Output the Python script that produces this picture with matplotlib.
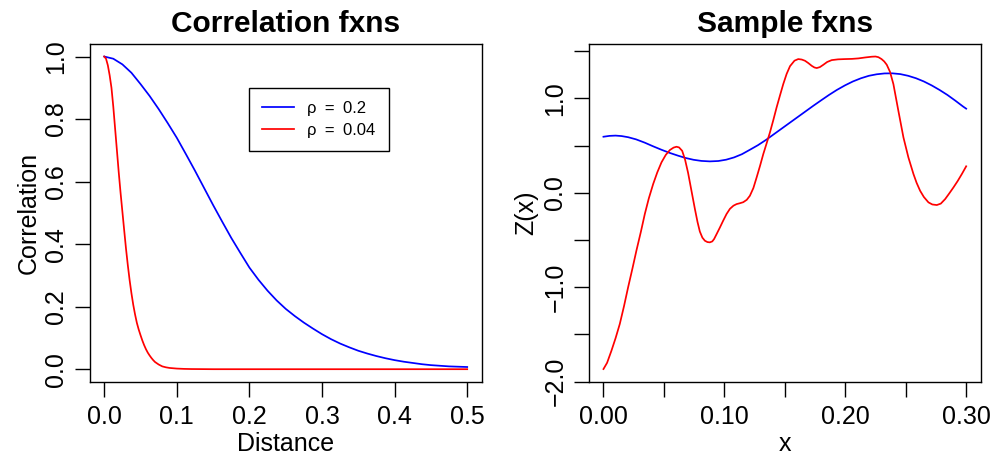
import matplotlib
matplotlib.use("Agg")
import matplotlib.pyplot as plt
from matplotlib.lines import Line2D

plt.rcParams['font.family'] = ['Liberation Sans', 'DejaVu Sans']
plt.rcParams['font.size'] = 18

# ---------------- data ----------------
dist_blue = [0.0, 0.0125, 0.025, 0.0375, 0.05, 0.0625, 0.075, 0.0875, 0.1, 0.1125,
             0.125, 0.1375, 0.15, 0.1625, 0.175, 0.1875, 0.2, 0.2125, 0.225, 0.2375,
             0.25, 0.2625, 0.275, 0.2875, 0.3, 0.3125, 0.325, 0.3375, 0.35, 0.3625,
             0.375, 0.3875, 0.4, 0.4125, 0.425, 0.4375, 0.45, 0.4625, 0.475, 0.4875, 0.5]
corr_blue = [1.0, 0.993, 0.975, 0.948, 0.912, 0.874, 0.832, 0.787, 0.740, 0.688,
             0.635, 0.580, 0.525, 0.472, 0.420, 0.372, 0.325, 0.286, 0.251, 0.220,
             0.193, 0.170, 0.149, 0.130, 0.112, 0.096, 0.082, 0.070, 0.059, 0.050,
             0.042, 0.035, 0.029, 0.024, 0.020, 0.016, 0.013, 0.011, 0.009, 0.008, 0.007]

dist_red = [0.0, 0.0025, 0.005, 0.0075, 0.01, 0.0125, 0.015, 0.0175, 0.02, 0.0225,
            0.025, 0.0275, 0.03, 0.0325, 0.035, 0.0375, 0.04, 0.0425, 0.045, 0.0475,
            0.05, 0.0525, 0.055, 0.0575, 0.06, 0.0625, 0.065, 0.0675, 0.07, 0.075,
            0.08, 0.085, 0.09, 0.1, 0.11, 0.12, 0.15, 0.5]
corr_red = [1.0, 0.993, 0.972, 0.940, 0.900, 0.840, 0.770, 0.700, 0.630, 0.565,
            0.505, 0.445, 0.386, 0.333, 0.285, 0.243, 0.206, 0.175, 0.148, 0.127,
            0.109, 0.092, 0.077, 0.064, 0.053, 0.044, 0.036, 0.029, 0.023, 0.015,
            0.009, 0.006, 0.004, 0.002, 0.001, 0.0005, 0.0, 0.0]

x_blue = [0.000, 0.005, 0.010, 0.015, 0.0204, 0.027, 0.0342, 0.041, 0.048, 0.055,
          0.0618, 0.068, 0.0745, 0.081, 0.088, 0.095, 0.1015, 0.108, 0.1145, 0.1211,
          0.1277, 0.1345, 0.141, 0.1475, 0.154, 0.1605, 0.167, 0.1735, 0.180, 0.1865,
          0.193, 0.1998, 0.2063, 0.213, 0.2195, 0.226, 0.2325, 0.239, 0.2455, 0.252,
          0.2585, 0.265, 0.2715, 0.278, 0.2845, 0.291, 0.2975, 0.300]
z_blue = [0.593, 0.602, 0.605, 0.600, 0.588, 0.565, 0.530, 0.492, 0.455, 0.421,
          0.392, 0.368, 0.349, 0.337, 0.332, 0.336, 0.350, 0.374, 0.408, 0.455,
          0.503, 0.560, 0.620, 0.680, 0.740, 0.800, 0.860, 0.920, 0.978, 1.035,
          1.088, 1.137, 1.178, 1.212, 1.238, 1.254, 1.263, 1.264, 1.256, 1.238,
          1.212, 1.178, 1.136, 1.088, 1.035, 0.975, 0.912, 0.890]

x_red = [0.000, 0.003, 0.0066, 0.010, 0.0135, 0.017, 0.0204, 0.024, 0.0273, 0.031,
         0.0342, 0.0375, 0.0411, 0.0445, 0.048, 0.0515, 0.0549, 0.058, 0.0604, 0.0625,
         0.0651, 0.0675, 0.070, 0.0728, 0.0756, 0.0778, 0.0797, 0.0818, 0.0839, 0.086,
         0.088, 0.090, 0.0915, 0.0936, 0.0963, 0.099, 0.1018, 0.1046, 0.1075, 0.1101,
         0.1128, 0.1156, 0.1185, 0.1211, 0.124, 0.1267, 0.1295, 0.1322, 0.135, 0.1377,
         0.1405, 0.1432, 0.146, 0.1487, 0.1515, 0.1543, 0.158, 0.1611, 0.164, 0.1667,
         0.1695, 0.1722, 0.1745, 0.1764, 0.179, 0.1819, 0.185, 0.1888, 0.194, 0.1998,
         0.2055, 0.2108, 0.2165, 0.2219, 0.225, 0.2274, 0.230, 0.2322, 0.2343, 0.237,
         0.2398, 0.2439, 0.2481, 0.2522, 0.2564, 0.259, 0.2619, 0.265, 0.2688, 0.272,
         0.2757, 0.279, 0.2826, 0.286, 0.2895, 0.293, 0.2965, 0.300]
z_red = [-1.866, -1.800, -1.672, -1.540, -1.389, -1.200, -1.000, -0.800, -0.610, -0.410,
         -0.225, -0.060, 0.092, 0.215, 0.322, 0.400, 0.452, 0.478, 0.487, 0.480,
         0.444, 0.350, 0.210, 0.020, -0.170, -0.310, -0.410, -0.475, -0.508, -0.522,
         -0.525, -0.515, -0.490, -0.437, -0.368, -0.296, -0.225, -0.170, -0.137, -0.120,
         -0.111, -0.100, -0.075, -0.032, 0.050, 0.163, 0.285, 0.410, 0.525, 0.639,
         0.770, 0.903, 1.030, 1.150, 1.258, 1.340, 1.398, 1.415, 1.410, 1.397,
         1.372, 1.344, 1.326, 1.320, 1.330, 1.355, 1.384, 1.404, 1.412, 1.415,
         1.417, 1.422, 1.432, 1.440, 1.442, 1.435, 1.415, 1.390, 1.355, 1.280,
         1.150, 0.868, 0.586, 0.374, 0.198, 0.105, 0.021, -0.045, -0.102, -0.124,
         -0.130, -0.115, -0.067, -0.007, 0.057, 0.125, 0.200, 0.280]

legend_labels = ["\u03c1\u2002=\u20020.2", "\u03c1\u2002=\u20020.04"]

left_xticks = [0.0, 0.1, 0.2, 0.3, 0.4, 0.5]
left_xticklabels = ["0.0", "0.1", "0.2", "0.3", "0.4", "0.5"]
left_yticks = [0.0, 0.2, 0.4, 0.6, 0.8, 1.0]
left_yticklabels = ["0.0", "0.2", "0.4", "0.6", "0.8", "1.0"]
right_xticks = [0.0, 0.05, 0.10, 0.15, 0.20, 0.25, 0.30]
right_xticklabels = ["0.00", "", "0.10", "", "0.20", "", "0.30"]
right_yticks = [-2.0, -1.5, -1.0, -0.5, 0.0, 0.5, 1.0, 1.5]
right_yticklabels = ["\u22122.0", "", "\u22121.0", "", "0.0", "", "1.0", ""]

# ---------------- figure ----------------
fig = plt.figure(figsize=(9.91, 4.59), dpi=100)
ax1 = fig.add_axes([0.0905, 0.1684, 0.3956, 0.7357])
ax2 = fig.add_axes([0.5943, 0.1684, 0.3953, 0.7357])

LW = 1.25


def pad_lim(lo, hi):
    r = hi - lo
    return lo - 0.04 * r, hi + 0.04 * r


def style(ax):
    for s in ax.spines.values():
        s.set_linewidth(1.0)
        s.set_color('black')
    ax.tick_params(axis='both', direction='out', length=10.6, width=1.0,
                   color='black', labelsize=18)
    ax.tick_params(axis='x', pad=6.5)
    ax.tick_params(axis='y', pad=5)


# Left panel
ax1.plot(dist_blue, corr_blue, color='#0000FF', lw=LW)
ax1.plot(dist_red, corr_red, color='#FF0000', lw=LW)
ax1.set_xlim(*pad_lim(min(dist_blue), max(dist_blue)))
ax1.set_ylim(*pad_lim(0.0, 1.0))
style(ax1)
ax1.set_xticks(left_xticks, left_xticklabels)
ax1.set_yticks(left_yticks, left_yticklabels, rotation=90, va='center')
ax1.set_title("Correlation fxns", fontsize=21.5, fontweight='bold', y=1.0355,
              pad=0, va='baseline')
ax1.set_xlabel("Distance", fontsize=18)
ax1.set_ylabel("Correlation", fontsize=18)
ax1.xaxis.set_label_coords(0.5, -0.148)
ax1.yaxis.set_label_coords(-0.126, 0.5)

handles = [Line2D([], [], color='#0000FF', lw=LW), Line2D([], [], color='#FF0000', lw=LW)]
leg = ax1.legend(handles, legend_labels, loc='upper left', bbox_to_anchor=(0.406, 0.870),
                 borderaxespad=0, fontsize=12, frameon=True, fancybox=False,
                 edgecolor='black', framealpha=1, borderpad=0.8, handlelength=1.9,
                 handletextpad=0.8, labelspacing=0.4)
leg.get_frame().set_linewidth(1.0)

# Right panel
ax2.plot(x_blue, z_blue, color='#0000FF', lw=LW)
ax2.plot(x_red, z_red, color='#FF0000', lw=LW)
ax2.set_xlim(*pad_lim(0.0, 0.30))
ax2.set_ylim(*pad_lim(min(z_red + z_blue), max(z_red + z_blue)))
style(ax2)
ax2.set_xticks(right_xticks, right_xticklabels)
ax2.set_yticks(right_yticks, right_yticklabels, rotation=90, va='center')
ax2.set_title("Sample fxns", fontsize=21.5, fontweight='bold', y=1.0355,
              pad=0, va='baseline')
ax2.set_xlabel("x", fontsize=18)
ax2.set_ylabel("Z(x)", fontsize=18)
ax2.xaxis.set_label_coords(0.5, -0.148)
ax2.yaxis.set_label_coords(-0.1287, 0.5)

fig.savefig("out.png", dpi=100)
